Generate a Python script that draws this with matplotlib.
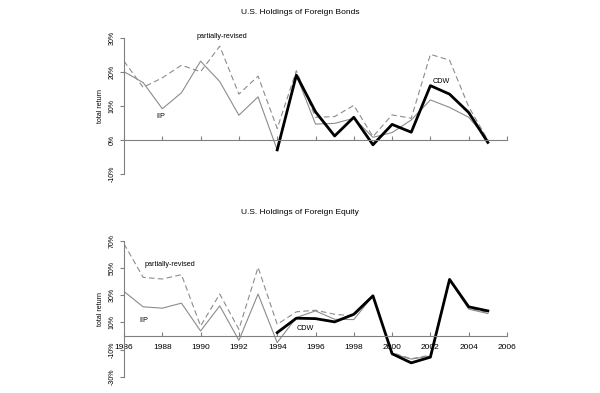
import matplotlib
matplotlib.use("Agg")
import matplotlib.pyplot as plt

years = list(range(1986, 2006))
cdw_years = list(range(1994, 2006))

bond_iip = [20.0, 16.8, 9.1, 13.8, 23.1, 17.1, 7.2, 12.6, -3.0, 19.0,
            4.6, 4.8, 6.3, 0.7, 2.1, 5.8, 11.7, 9.5, 6.6, -0.1]
bond_pr = [23.1, 15.4, 18.2, 21.9, 20.0, 27.5, 13.4, 18.7, 3.3, 20.3,
           6.6, 6.8, 10.1, 0.9, 7.3, 6.3, 25.1, 23.4, 9.7, -0.1]
bond_cdw = [-3.0, 19.0, 8.2, 1.1, 6.6, -1.5, 4.5, 2.2, 15.9, 13.4, 8.0, -0.8]

eq_iip = [32.8, 21.5, 20.5, 24.2, 3.7, 22.2, -3.2, 30.9, -4.9, 13.6,
          18.5, 12.3, 12.1, 29.6, -13.0, -17.0, -14.8, 41.7, 19.8, 16.5]
eq_pr = [67.9, 43.2, 42.0, 45.2, 7.4, 30.9, 4.9, 50.6, 8.6, 17.8,
         19.0, 16.0, 14.8, 29.6, -12.3, -16.8, -14.1, 41.0, 20.5, 17.3]
eq_cdw = [2.5, 13.1, 12.8, 10.4, 16.0, 29.6, -13.1, -19.8, -15.6, 41.7, 21.5, 18.5]

bond_yticks = [-10, 0, 10, 20, 30]
eq_yticks = [-30, -10, 10, 30, 50, 70]
xticks = list(range(1986, 2007, 2))

plt.rcParams['font.family'] = ['Liberation Sans', 'DejaVu Sans']

fig = plt.figure(figsize=(6.0, 3.93), dpi=100)

axis_col = '#808080'
gray = '#8c8c8c'

def setup(ax, yticks, ylim, show_xlabels):
    ax.set_xlim(1986, 2006)
    ax.set_ylim(*ylim)
    for s in ['top', 'right']:
        ax.spines[s].set_visible(False)
    ax.spines['bottom'].set_position(('data', 0))
    ax.spines['bottom'].set_color(axis_col)
    ax.spines['left'].set_color(axis_col)
    ax.spines['bottom'].set_linewidth(0.8)
    ax.spines['left'].set_linewidth(0.8)
    ax.set_yticks(yticks)
    ax.set_yticklabels([f"{v}%" for v in yticks], rotation=90, va='center', fontsize=5)
    ax.tick_params(axis='y', direction='out', length=3, color=axis_col, pad=3)
    ax.set_xticks(xticks)
    if show_xlabels:
        ax.set_xticklabels([str(x) for x in xticks], fontsize=6)
    else:
        ax.set_xticklabels([])
    ax.tick_params(axis='x', direction='in', length=3, color=axis_col, pad=5.5)
    ax.set_ylabel('total return', fontsize=5, labelpad=3)
    ax.patch.set_alpha(0)

# top chart
ax1 = fig.add_axes([124/600, 1 - 173.7/393, 383/600, 136/393])
setup(ax1, bond_yticks, (-10, 30), False)
ax1.plot(years, bond_iip, color=gray, lw=0.8)
ax1.plot(years, bond_pr, color=gray, lw=0.8, ls=(0, (5, 3)))
ax1.plot(cdw_years, bond_cdw, color='black', lw=2.0)
ax1.text(1991.1, 30.5, 'partially-revised', fontsize=5.2, ha='center', va='center')
ax1.text(1987.9, 6.7, 'IIP', fontsize=5.2, ha='center', va='center')
ax1.text(2002.55, 17.0, 'CDW', fontsize=5.2, ha='center', va='center')
fig.text(300/600, 1 - 13/393, 'U.S. Holdings of Foreign Bonds', fontsize=6, ha='center', va='center')

# bottom chart
ax2 = fig.add_axes([124/600, 1 - 376.7/393, 383/600, 135.7/393])
setup(ax2, eq_yticks, (-30, 70), True)
ax2.plot(years, eq_iip, color=gray, lw=0.8)
ax2.plot(years, eq_pr, color=gray, lw=0.8, ls=(0, (5, 3)))
ax2.plot(cdw_years, eq_cdw, color='black', lw=2.0)
ax2.text(1988.4, 52.4, 'partially-revised', fontsize=5.2, ha='center', va='center')
ax2.text(1987.05, 11.7, 'IIP', fontsize=5.2, ha='center', va='center')
ax2.text(1995.45, 5.8, 'CDW', fontsize=5.2, ha='center', va='center')
fig.text(300/600, 1 - 213/393, 'U.S. Holdings of Foreign Equity', fontsize=6, ha='center', va='center')

fig.savefig('out.png', dpi=100)
